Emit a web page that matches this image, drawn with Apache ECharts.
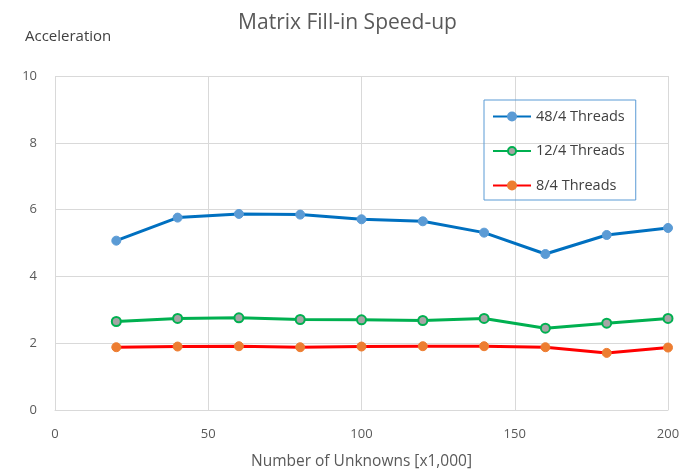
<!DOCTYPE html>
<html><head><meta charset="utf-8">
<script src="https://cdn.jsdelivr.net/npm/echarts@6/dist/echarts.min.js"></script>
<style>html,body{margin:0;padding:0;background:#fff}#c{width:695px;height:471px}</style>
</head><body><div id="c"></div>
<script>
const unknowns = [20, 40, 60, 80, 100, 120, 140, 160, 180, 200];
const threads48 = [5.07, 5.76, 5.87, 5.85, 5.71, 5.65, 5.31, 4.67, 5.24, 5.45];
const threads12 = [2.65, 2.74, 2.76, 2.71, 2.70, 2.68, 2.74, 2.45, 2.60, 2.74];
const threads8 = [1.88, 1.90, 1.91, 1.88, 1.90, 1.91, 1.91, 1.88, 1.71, 1.87];
const seriesNames = ['48/4 Threads', '12/4 Threads', '8/4 Threads'];
const xTicks = [0, 50, 100, 150, 200];
const yTicks = [0, 2, 4, 6, 8, 10];

const pair = arr => unknowns.map((x, i) => [x, arr[i]]);
const font = '"Open Sans", Lato, sans-serif';
const chart = echarts.init(document.getElementById('c'), null, {renderer: 'canvas'});
chart.setOption({
  animation: false,
  title: {
    text: 'Matrix Fill-in Speed-up', left: 'center', top: 8,
    textStyle: {fontFamily: font, fontSize: 21, fontWeight: 'normal', color: '#595959'}
  },
  grid: {left: 55, right: 27, top: 76, bottom: 61, outerBoundsMode: 'none', containLabel: false},
  legend: {
    orient: 'vertical', left: 484, top: 100,
    data: seriesNames,
    borderColor: '#5B9BD5', borderWidth: 1,
    padding: [9, 11, 7, 8], itemGap: 19.5, itemWidth: 38, itemHeight: 10,
    textStyle: {fontFamily: font, fontSize: 14.5, lineHeight: 14, color: '#404040'}
  },
  xAxis: {
    type: 'value', min: xTicks[0], max: xTicks[xTicks.length - 1], interval: 50,
    name: 'Number of Unknowns [x1,000]', nameLocation: 'middle', nameGap: 44,
    nameTextStyle: {fontFamily: font, fontSize: 15.5, color: '#595959'},
    axisLine: {lineStyle: {color: '#D9D9D9'}},
    axisTick: {show: false},
    axisLabel: {fontFamily: font, fontSize: 13, color: '#595959', margin: 18},
    splitLine: {show: true, lineStyle: {color: '#D9D9D9', width: 1}}
  },
  yAxis: {
    type: 'value', min: yTicks[0], max: yTicks[yTicks.length - 1], interval: 2,
    name: 'Acceleration', nameLocation: 'end', nameGap: 32,
    nameTextStyle: {fontFamily: font, fontSize: 15, color: '#404040', align: 'left', padding: [0, 0, 0, -30]},
    axisLine: {show: false},
    axisTick: {show: false},
    axisLabel: {fontFamily: font, fontSize: 13, color: '#595959', margin: 18},
    splitLine: {show: true, lineStyle: {color: '#D9D9D9', width: 1}}
  },
  series: [
    {
      name: seriesNames[0], type: 'line', data: pair(threads48),
      symbol: 'circle', symbolSize: 9,
      lineStyle: {color: '#0070C0', width: 3},
      itemStyle: {color: '#5B9BD5', borderColor: '#5B9BD5', borderWidth: 1}
    },
    {
      name: seriesNames[1], type: 'line', data: pair(threads12),
      symbol: 'circle', symbolSize: 9,
      lineStyle: {color: '#00B050', width: 3},
      itemStyle: {color: '#A5A5A5', borderColor: '#00B050', borderWidth: 2}
    },
    {
      name: seriesNames[2], type: 'line', data: pair(threads8),
      symbol: 'circle', symbolSize: 9,
      lineStyle: {color: '#FF0000', width: 3},
      itemStyle: {color: '#ED7D31', borderColor: '#ED7D31', borderWidth: 1}
    }
  ]
});
</script></body></html>
